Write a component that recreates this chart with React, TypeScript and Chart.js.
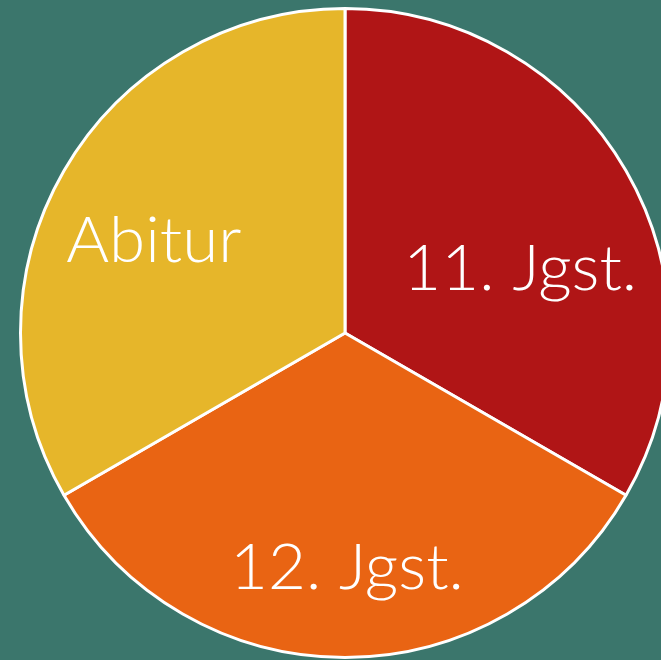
import React, { useEffect, useRef } from "react";
import { Chart, registerables } from "chart.js";

Chart.register(...registerables);

const categories = ["11. Jgst.", "12. Jgst.", "Abitur"];
const values = [1, 1, 1];
const colors = ["#B01516", "#E96413", "#E6B62A"];
// label baseline placement as fractions of the pie radius, relative to the centre
const labelOffsets = [
  [0.54, -0.132],
  [0.006, 0.788],
  [-0.589, -0.218],
];

const labelPlugin = {
  id: "sliceLabels",
  afterDatasetsDraw(chart: any) {
    const meta = chart.getDatasetMeta(0);
    const ctx = chart.ctx;
    meta.data.forEach((arc: any, i: number) => {
      const r = arc.outerRadius;
      const [fx, fy] = labelOffsets[i];
      ctx.save();
      ctx.translate(arc.x + fx * r, arc.y + fy * r);
      ctx.scale(1.04, 1);
      ctx.fillStyle = "#ffffff";
      ctx.font = "300 63px Lato, 'DejaVu Sans', sans-serif";
      ctx.textAlign = "center";
      ctx.textBaseline = "alphabetic";
      ctx.fillText(categories[i], 0, 0);
      ctx.restore();
    });
  },
};

export default function App() {
  const ref = useRef<HTMLCanvasElement>(null);
  useEffect(() => {
    const chart = new Chart(ref.current!, {
      type: "pie",
      data: {
        labels: categories,
        datasets: [
          {
            data: values,
            backgroundColor: colors,
            borderColor: "#ffffff",
            borderWidth: 3,
          },
        ],
      },
      options: {
        responsive: false,
        animation: false,
        layout: { padding: { left: 19, right: 19, top: 7, bottom: 33 } },
        plugins: { legend: { display: false }, tooltip: { enabled: false } },
      },
      plugins: [labelPlugin],
    });
    return () => chart.destroy();
  }, []);
  return (
    <div
      style={{
        position: "fixed",
        left: 0,
        top: 0,
        width: 661,
        height: 660,
        overflow: "hidden",
        background: "#3B766C",
      }}
    >
      <canvas ref={ref} width={690} height={692} style={{ display: "block" }} />
    </div>
  );
}
